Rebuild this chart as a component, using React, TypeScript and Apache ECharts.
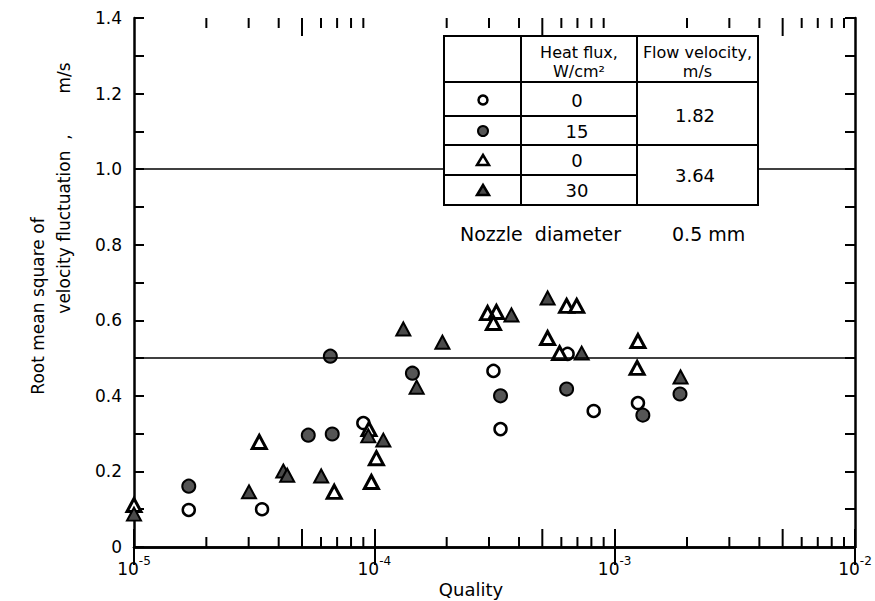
import React, { useEffect, useRef } from "react";
import * as echarts from "echarts";

// Quality (x), RMS velocity fluctuation m/s (y)
const openCircles: [number, number][] = [
  [1.69e-5, 0.098],
  [3.41e-5, 0.1],
  [9.0e-5, 0.328],
  [3.13e-4, 0.466],
  [3.35e-4, 0.312],
  [6.37e-4, 0.511],
  [8.18e-4, 0.36],
  [1.25e-3, 0.381],
];

const filledCircles: [number, number][] = [
  [1.69e-5, 0.161],
  [5.31e-5, 0.296],
  [6.68e-5, 0.299],
  [6.56e-5, 0.505],
  [1.44e-4, 0.46],
  [3.35e-4, 0.4],
  [6.31e-4, 0.418],
  [1.31e-3, 0.349],
  [1.87e-3, 0.405],
];

const openTriangles: [number, number][] = [
  [1.0e-5, 0.111],
  [3.32e-5, 0.278],
  [6.81e-5, 0.146],
  [9.72e-5, 0.172],
  [1.02e-4, 0.235],
  [9.5e-5, 0.312],
  [2.96e-4, 0.619],
  [3.22e-4, 0.622],
  [3.13e-4, 0.593],
  [6.31e-4, 0.638],
  [6.95e-4, 0.638],
  [5.26e-4, 0.553],
  [5.9e-4, 0.513],
  [1.25e-3, 0.545],
  [1.24e-3, 0.474],
];

const filledTriangles: [number, number][] = [
  [1.0e-5, 0.087],
  [3.01e-5, 0.146],
  [4.18e-5, 0.201],
  [4.34e-5, 0.19],
  [6.01e-5, 0.188],
  [9.44e-5, 0.294],
  [1.09e-4, 0.283],
  [1.5e-4, 0.423],
  [1.32e-4, 0.577],
  [1.92e-4, 0.542],
  [3.72e-4, 0.614],
  [5.26e-4, 0.659],
  [7.29e-4, 0.513],
  [1.88e-3, 0.45],
];

const xMin = 1e-5;
const xMax = 1e-2;
const yMin = 0;
const yMax = 1.4;
const yInterval = 0.2;
const gridYValues = [0.5, 1.0];
const gridXValues = [1e-4, 1e-3];
const minorTickFactors = [2, 3, 4, 5, 6, 7, 8, 9];
const minorTickDecades = [1e-5, 1e-4, 1e-3];

const heatFluxHeader = ["Heat flux,", "W/cm²"];
const flowVelocityHeader = ["Flow velocity,", "m/s"];
const heatFluxValues = ["0", "15", "0", "30"];
const flowVelocityValues = ["1.82", "3.64"];
const nozzleText = ["Nozzle  diameter", "0.5 mm"];

const FONT = "DejaVu Sans";

export default function App() {
  const ref = useRef<HTMLDivElement>(null);

  useEffect(() => {
    if (!ref.current) return;
    const chart = echarts.init(ref.current, undefined, { renderer: "svg" });

    const minorTicks: number[][] = [];
    minorTickDecades.forEach((d) =>
      minorTickFactors.forEach((f) => minorTicks.push([f * d, 0.7, f]))
    );

    const axisLineStyle = { color: "#000", width: 2.5 };
    const tickStyle = { color: "#000", width: 2 };

    const tL = 444, tR = 758, tT = 36, tB = 205;
    const c1 = 521, c2 = 637;
    const hB = 82, r1 = 116, r2 = 145, r3 = 175;
    const col1 = 483, col2 = 577, col3 = 695;
    const rowY = [100, 131, 160, 190];
    const lineS = { stroke: "#000", lineWidth: 2 };

    const txt = (x: number, y: number, text: string, size: number, align = "center") => ({
      type: "text",
      x,
      y,
      z: 102,
      style: {
        text,
        fontSize: size,
        fontFamily: FONT,
        fill: "#000",
        align,
        verticalAlign: "middle",
      },
    });
    const ln = (x1: number, y1: number, x2: number, y2: number) => ({
      type: "line",
      z: 101,
      shape: { x1, y1, x2, y2 },
      style: lineS,
    });
    const tri = (x: number, y: number, fill: string) => ({
      type: "polygon",
      z: 102,
      shape: { points: [[x, y - 5], [x + 6, y + 5], [x - 6, y + 5]] },
      style: { fill, stroke: "#000", lineWidth: 2.5 },
    });

    const scatterBase = {
      type: "scatter",
      clip: false,
      z: 3,
      silent: true,
    };

    const tickSeries = (edge: "bottom" | "top") => ({
      type: "custom",
      z: 4,
      silent: true,
      clip: false,
      data: minorTicks,
      encode: { x: 0, y: 1 },
      renderItem: (params: any, api: any) => {
        const v = api.value(0);
        const f = api.value(2);
        const p = api.coord([v, edge === "bottom" ? yMin : yMax]);
        const len = f === 5 ? 18 : 10;
        const dir = edge === "bottom" ? -1 : 1;
        return {
          type: "line",
          shape: { x1: p[0], y1: p[1], x2: p[0], y2: p[1] + dir * len },
          style: { stroke: "#000", lineWidth: 2 },
        };
      },
    });

    chart.setOption({
      animation: false,
      backgroundColor: "#fff",
      textStyle: { fontFamily: FONT },
      grid: { left: 134, right: 20, top: 18, bottom: 54, containLabel: false },
      xAxis: [
        {
          type: "log",
          logBase: 10,
          min: xMin,
          max: xMax,
          position: "bottom",
          axisLine: { show: true, lineStyle: axisLineStyle },
          axisTick: { show: true, inside: true, length: 18, lineStyle: tickStyle },
          minorTick: { show: false },
          splitLine: { show: false },
          axisLabel: {
            margin: 8,
            showMinLabel: true,
            showMaxLabel: true,
            formatter: (v: number) => `{b|10}{s|${Math.round(Math.log10(v))}}`,
            rich: {
              b: { fontSize: 17, fontFamily: FONT, color: "#000", lineHeight: 22, verticalAlign: "bottom" },
              s: { fontSize: 12, fontFamily: FONT, color: "#000", lineHeight: 12, verticalAlign: "top" },
            },
          },
        },
        {
          type: "log",
          logBase: 10,
          min: xMin,
          max: xMax,
          position: "top",
          axisLine: { show: true, lineStyle: axisLineStyle },
          axisTick: { show: true, inside: true, length: 18, lineStyle: tickStyle },
          minorTick: { show: false },
          axisLabel: { show: false },
          splitLine: { show: false },
        },
      ],
      yAxis: [
        {
          type: "value",
          min: yMin,
          max: yMax,
          interval: yInterval,
          position: "left",
          axisLine: { show: true, lineStyle: axisLineStyle },
          axisTick: { show: true, inside: true, length: 10, lineStyle: tickStyle },
          minorTick: { show: true, splitNumber: 2, length: 10, lineStyle: tickStyle },
          splitLine: { show: false },
          axisLabel: {
            margin: 12,
            fontSize: 17,
            fontFamily: FONT,
            color: "#000",
            formatter: (v: number) => (v === 0 ? "0" : v.toFixed(1)),
          },
        },
        {
          type: "value",
          min: yMin,
          max: yMax,
          interval: yInterval,
          position: "right",
          axisLine: { show: true, lineStyle: axisLineStyle },
          axisTick: { show: true, inside: true, length: 10, lineStyle: tickStyle },
          minorTick: { show: true, splitNumber: 2, length: 10, lineStyle: tickStyle },
          splitLine: { show: false },
          axisLabel: { show: false },
        },
      ],
      series: [
        {
          type: "scatter",
          data: [],
          z: 1,
          silent: true,
          markLine: {
            silent: true,
            symbol: ["none", "none"],
            label: { show: false },
            lineStyle: { type: "solid", color: "#000", width: 1.5 },
            data: [
              ...gridYValues.map((v) => ({ yAxis: v })),
              ...gridXValues.map((v) => ({ xAxis: v })),
            ],
          },
        },
        tickSeries("bottom"),
        tickSeries("top"),
        {
          ...scatterBase,
          name: "open circle",
          data: openCircles,
          symbol: "circle",
          symbolSize: 12,
          itemStyle: { color: "#fff", borderColor: "#000", borderWidth: 2.5, opacity: 1 },
        },
        {
          ...scatterBase,
          name: "filled circle",
          data: filledCircles,
          symbol: "circle",
          symbolSize: 13,
          itemStyle: { color: "#555", borderColor: "#000", borderWidth: 2, opacity: 1 },
        },
        {
          ...scatterBase,
          name: "open triangle",
          data: openTriangles,
          symbol: "triangle",
          symbolSize: [14, 13],
          itemStyle: { color: "#fff", borderColor: "#000", borderWidth: 3, opacity: 1 },
        },
        {
          ...scatterBase,
          name: "filled triangle",
          data: filledTriangles,
          symbol: "triangle",
          symbolSize: [14, 13],
          itemStyle: { color: "#4a4a4a", borderColor: "#000", borderWidth: 2, opacity: 1 },
        },
      ],
      graphic: [
        {
          type: "rect",
          z: 100,
          shape: { x: tL, y: tT, width: tR - tL, height: tB - tT },
          style: { fill: "#fff", stroke: "#000", lineWidth: 2 },
        },
        ln(c1, tT, c1, tB),
        ln(c2, tT, c2, tB),
        ln(tL, hB, tR, hB),
        ln(tL, r2, tR, r2),
        ln(tL, r1, c2, r1),
        ln(tL, r3, c2, r3),
        txt((c1 + c2) / 2, 52, heatFluxHeader[0], 16),
        txt((c1 + c2) / 2, 71, heatFluxHeader[1], 16),
        txt((c2 + tR) / 2, 52, flowVelocityHeader[0], 16),
        txt((c2 + tR) / 2, 71, flowVelocityHeader[1], 16),
        txt(col2, rowY[0], heatFluxValues[0], 18),
        txt(col2, rowY[1], heatFluxValues[1], 18),
        txt(col2, rowY[2], heatFluxValues[2], 18),
        txt(col2, rowY[3], heatFluxValues[3], 18),
        txt(col3, 115, flowVelocityValues[0], 18),
        txt(col3, 175, flowVelocityValues[1], 18),
        {
          type: "circle",
          z: 102,
          shape: { cx: col1, cy: rowY[0], r: 4.5 },
          style: { fill: "#fff", stroke: "#000", lineWidth: 2.5 },
        },
        {
          type: "circle",
          z: 102,
          shape: { cx: col1, cy: rowY[1], r: 5 },
          style: { fill: "#555", stroke: "#000", lineWidth: 2 },
        },
        tri(col1, rowY[2], "#fff"),
        tri(col1, rowY[3], "#4a4a4a"),
        txt(460, 234, nozzleText[0], 19, "left"),
        txt(672, 234, nozzleText[1], 19, "left"),
        txt(471, 589, "Quality", 18),
        {
          type: "text",
          x: 38,
          y: 306,
          rotation: Math.PI / 2,
          style: { text: "Root mean square of", fontSize: 17, fontFamily: FONT, fill: "#000", align: "center", verticalAlign: "middle" },
        },
        {
          type: "text",
          x: 64,
          y: 224,
          rotation: Math.PI / 2,
          style: { text: "velocity fluctuation  ,", fontSize: 17, fontFamily: FONT, fill: "#000", align: "center", verticalAlign: "middle" },
        },
        {
          type: "text",
          x: 64,
          y: 78,
          rotation: Math.PI / 2,
          style: { text: "m/s", fontSize: 17, fontFamily: FONT, fill: "#000", align: "center", verticalAlign: "middle" },
        },
      ],
    });

    return () => chart.dispose();
  }, []);

  return (
    <div
      ref={ref}
      style={{ position: "absolute", left: 0, top: 0, width: 875, height: 601, background: "#fff" }}
    />
  );
}
